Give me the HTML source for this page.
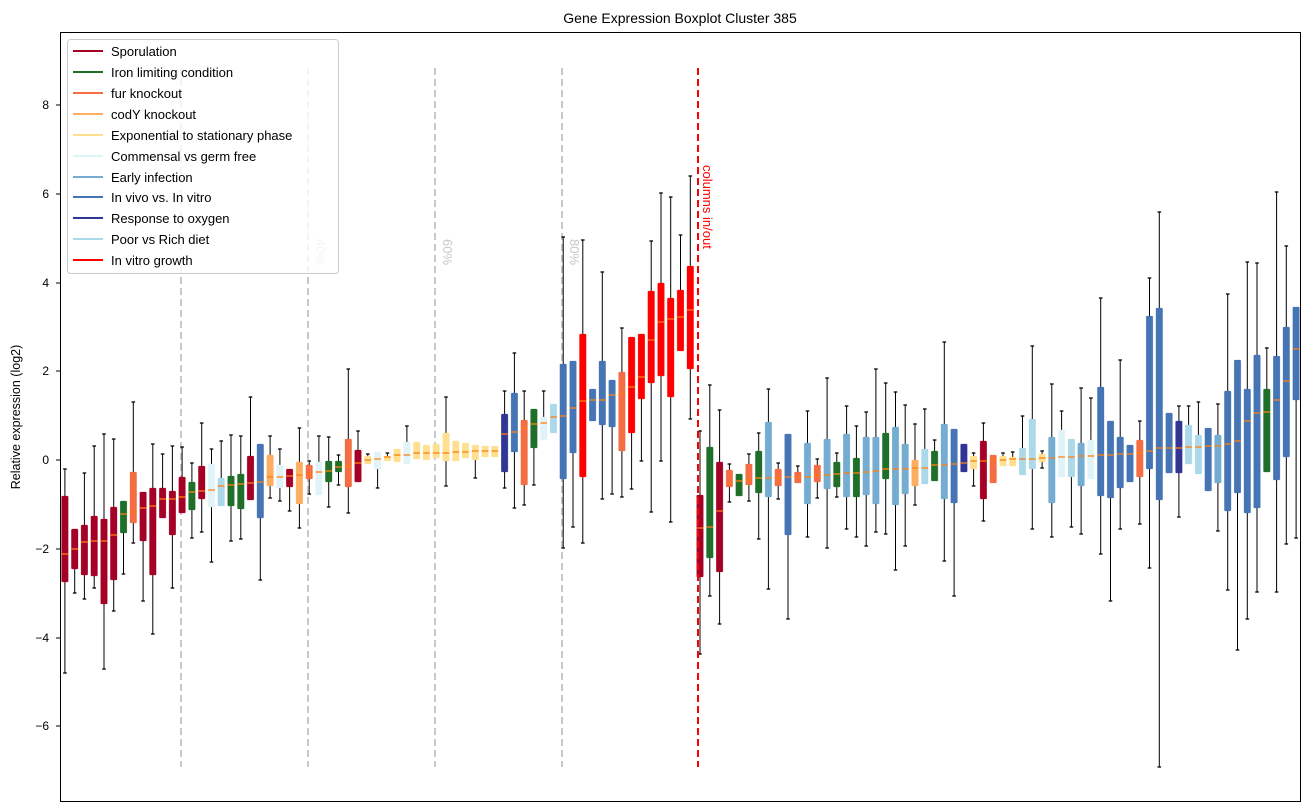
<!DOCTYPE html>
<html><head><meta charset="utf-8"><style>
body{margin:0;background:#fff;}
svg{display:block;font-family:"Liberation Sans","DejaVu Sans",sans-serif;}
</style></head><body>
<svg id="s" width="1309" height="812" viewBox="0 0 1309 812" xmlns="http://www.w3.org/2000/svg">
<rect x="0" y="0" width="1309" height="812" fill="#fff"/>
<text x="680" y="23" font-size="14" text-anchor="middle" fill="#000">Gene Expression Boxplot Cluster 385</text>
<text transform="translate(20,417) rotate(-90)" font-size="12.5" text-anchor="middle" fill="#000">Relative expression (log2)</text>
<g font-size="12" text-anchor="end" fill="#000">
<text x="49" y="109">8</text><text x="49" y="198">6</text><text x="49" y="287">4</text><text x="49" y="375">2</text>
<text x="49" y="464">0</text><text x="49" y="553">−2</text><text x="49" y="642">−4</text><text x="49" y="730">−6</text>
</g>
<g stroke="#000" stroke-width="1">
<line x1="56" y1="105" x2="60" y2="105"/><line x1="56" y1="194" x2="60" y2="194"/><line x1="56" y1="283" x2="60" y2="283"/><line x1="56" y1="371" x2="60" y2="371"/>
<line x1="56" y1="460" x2="60" y2="460"/><line x1="56" y1="549" x2="60" y2="549"/><line x1="56" y1="638" x2="60" y2="638"/><line x1="56" y1="726" x2="60" y2="726"/>
</g>
<g stroke="#c8c8c8" stroke-width="2" stroke-dasharray="7,4">
<line x1="181" y1="68" x2="181" y2="767"/><line x1="308" y1="68" x2="308" y2="767"/>
<line x1="435" y1="68" x2="435" y2="767"/><line x1="562" y1="68" x2="562" y2="767"/>
</g>
<g font-size="13" fill="#c8c8c8">
<text transform="translate(316,252) rotate(90)" text-anchor="middle">40%</text>
<text transform="translate(443,252) rotate(90)" text-anchor="middle">60%</text>
<text transform="translate(570,252) rotate(90)" text-anchor="middle">80%</text>
</g>
<g id="boxes"></g>
<line x1="698" y1="68" x2="698" y2="767" stroke="#ff0000" stroke-width="2" stroke-dasharray="7,4"/>
<text transform="translate(703,165) rotate(90)" font-size="13" fill="#ff0000">columns in/out</text>
<rect x="60.5" y="32.5" width="1240" height="769" fill="none" stroke="#000" stroke-width="1"/>
<g>
<rect x="67.5" y="39.5" width="271" height="234" rx="3" fill="#fff" fill-opacity="0.8" stroke="#ccc"/>
<g stroke-width="2">
<line x1="73" x2="103" y1="51" y2="51" stroke="#a50026"/>
<line x1="73" x2="103" y1="72" y2="72" stroke="#1f6f2a"/>
<line x1="73" x2="103" y1="93" y2="93" stroke="#f46d43"/>
<line x1="73" x2="103" y1="114" y2="114" stroke="#fdae61"/>
<line x1="73" x2="103" y1="135" y2="135" stroke="#fee090"/>
<line x1="73" x2="103" y1="156" y2="156" stroke="#e0f3f8"/>
<line x1="73" x2="103" y1="177" y2="177" stroke="#74add1"/>
<line x1="73" x2="103" y1="197" y2="197" stroke="#4575b4"/>
<line x1="73" x2="103" y1="218" y2="218" stroke="#313695"/>
<line x1="73" x2="103" y1="239" y2="239" stroke="#abd9e9"/>
<line x1="73" x2="103" y1="260" y2="260" stroke="#ff0000"/>
</g>
<g font-size="13" fill="#000">
<text x="111" y="56">Sporulation</text>
<text x="111" y="77">Iron limiting condition</text>
<text x="111" y="98">fur knockout</text>
<text x="111" y="119">codY knockout</text>
<text x="111" y="140">Exponential to stationary phase</text>
<text x="111" y="161">Commensal vs germ free</text>
<text x="111" y="182">Early infection</text>
<text x="111" y="202">In vivo vs. In vitro</text>
<text x="111" y="223">Response to oxygen</text>
<text x="111" y="244">Poor vs Rich diet</text>
<text x="111" y="265">In vitro growth</text>
</g>
</g>
</svg>
<script>
var C={S:"#a50026",G:"#1f6f2a",F:"#f46d43",C:"#fdae61",Y:"#fee090",W:"#e0f3f8",E:"#74add1",B:"#4575b4",D:"#313695",P:"#abd9e9",R:"#ff0000"};
var d="S 469 496 554 582 673|S 529 529 549 569 593|S 473 525 542 575 599|S 446 516 541 576 588|S 434 519 541 604 669|S 439 507 535 580 611|G 501 501 514 533 574|F 402 472 512 523 543|S 492 492 508 541 601|S 444 488 506 575 634|S 454 488 499 518 518|S 446 491 499 535 588|S 447 477 497 513 513|G 463 482 492 510 538|S 423 466 491 499 532|W 449 464 490 507 562|P 441 478 486 506 506|G 435 476 485 506 541|G 436 474 484 509 539|S 397 456 483 500 500|B 444 444 482 518 580|C 436 455 477 486 498|W 449 465 477 488 501|S 469 469 476 487 511|C 428 462 475 504 528|F 461 465 474 479 494|W 436 462 472 495 495|G 437 461 471 482 507|G 455 461 467 472 485|F 369 439 466 487 513|S 431 450 463 482 482|Y 454 456 460 464 464|W 452 452 459 469 488|Y 453 456 457 461 461|Y 449 449 455 462 462|W 426 442 455 464 464|Y 442 442 453 459 459|Y 445 445 453 460 460|Y 444 444 453 458 458|Y 397 433 453 461 486|Y 441 441 452 461 461|Y 443 443 452 458 458|Y 445 445 451 460 478|Y 446 446 451 457 457|Y 446 446 451 457 457|D 391 414 434 472 488|B 353 393 432 452 508|F 391 420 428 485 505|G 409 409 424 448 485|W 391 417 423 440 440|P 404 404 417 433 433|B 237 364 416 479 548|B 361 361 408 453 527|R 240 334 401 477 543|B 389 389 400 421 421|B 272 361 400 425 499|B 380 380 395 427 494|F 328 372 394 451 497|R 337 337 387 433 489|R 334 334 377 399 461|R 241 291 340 383 512|R 193 283 322 376 461|R 197 298 319 397 522|R 235 290 317 351 351|R 176 266 310 369 419|S 431 495 528 577 654|G 385 447 527 558 596|S 410 462 511 572 624|F 464 470 483 487 502|G 474 474 481 496 496|F 454 464 480 485 501|G 433 451 478 493 539|E 389 422 478 497 589|F 463 469 478 486 499|B 434 434 477 535 619|F 466 472 477 483 483|E 411 443 477 504 537|F 459 465 475 482 498|E 378 439 475 489 548|G 453 462 474 487 497|E 406 434 473 497 529|G 426 458 473 497 537|E 412 437 472 495 546|E 369 437 471 504 532|G 383 433 469 479 534|E 392 427 469 505 570|E 405 444 469 494 546|C 424 460 468 486 505|P 409 449 468 484 484|G 440 451 465 481 481|E 342 424 465 499 561|B 429 429 464 503 596|D 444 444 463 472 472|Y 453 456 461 469 486|S 423 441 461 499 521|F 455 455 460 483 483|Y 453 456 460 466 466|Y 452 457 459 466 466|P 416 448 459 475 475|P 346 419 459 469 529|Y 451 454 458 462 468|E 384 437 458 503 537|W 411 430 457 477 477|P 439 439 457 477 527|E 388 443 456 486 534|W 398 440 456 479 479|B 298 387 455 496 554|B 421 421 455 498 601|B 360 437 454 488 529|B 445 445 454 482 482|F 421 440 453 477 524|B 278 316 451 469 568|B 212 308 448 500 767|B 413 413 448 473 473|D 406 421 448 473 517|P 406 425 447 464 464|P 402 435 447 474 474|B 428 428 446 491 491|E 404 435 446 483 531|B 294 391 444 511 590|B 360 360 441 493 650|B 262 389 421 513 619|B 263 355 413 508 592|G 348 389 412 472 472|B 192 356 400 480 592|B 246 327 381 457 544|B 307 307 349 400 538";
var rows=d.split("|"),h="",N=rows.length,sp=1241/N;
for(var i=0;i<N;i++){var p=rows[i].split(" "),c=C[p[0]],wt=+p[1],q3=+p[2],m=+p[3],q1=+p[4],wb=+p[5];
var x=60+(i+0.5)*sp,x0=(x-3.3).toFixed(1),x1=(x+3.3).toFixed(1),xs=x.toFixed(1);
if(wt<q3){h+='<line x1="'+xs+'" x2="'+xs+'" y1="'+wt+'" y2="'+q3+'" stroke="#000" stroke-width="1"/><line x1="'+(x-1.8).toFixed(1)+'" x2="'+(x+1.8).toFixed(1)+'" y1="'+wt+'" y2="'+wt+'" stroke="#000" stroke-width="1.3"/>';}
if(wb>q1){h+='<line x1="'+xs+'" x2="'+xs+'" y1="'+q1+'" y2="'+wb+'" stroke="#000" stroke-width="1"/><line x1="'+(x-1.8).toFixed(1)+'" x2="'+(x+1.8).toFixed(1)+'" y1="'+wb+'" y2="'+wb+'" stroke="#000" stroke-width="1.3"/>';}
h+='<rect x="'+x0+'" y="'+q3+'" width="6.6" height="'+Math.max(q1-q3,1)+'" rx="1" fill="'+c+'" stroke="'+c+'" stroke-opacity="0.5" stroke-width="0.6"/>';
h+='<line x1="'+x0+'" x2="'+x1+'" y1="'+m+'" y2="'+m+'" stroke="#ff7f0e" stroke-width="1.3"/>';}
document.getElementById("boxes").innerHTML=h;
</script>
</body></html>
